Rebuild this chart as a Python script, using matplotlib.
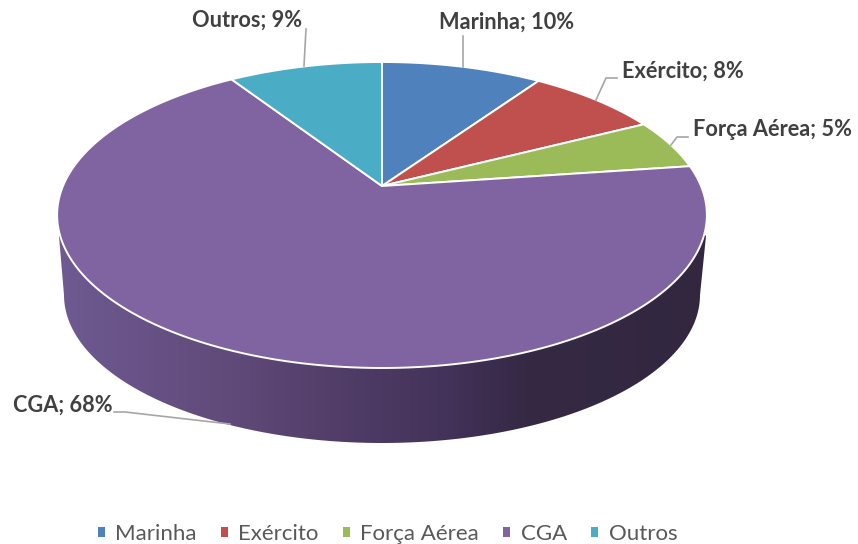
import matplotlib
matplotlib.use('Agg')
import numpy as np
import matplotlib.pyplot as plt
from matplotlib.patches import Patch, Polygon
from matplotlib.colors import LinearSegmentedColormap

plt.rcParams['font.family'] = ['Lato', 'DejaVu Sans']

#------------------------------ data
categories = ['Marinha', 'Exército', 'Força Aérea', 'CGA', 'Outros']
values = [9.6, 7.9, 5.3, 68.0, 9.2]
percent_labels = [10, 8, 5, 68, 9]
colors = ['#4f81bd', '#c0504d', '#9bbb59', '#8064a2', '#4bacc6']

#------------------------------ geometry of the tilted disc, in pixels
cx, cy = 382., 186.
A, B, C = 319., 147.5, 0.1895


def project(theta):
    # theta clockwise from the top of the disc, perspective squeeze
    u, v = np.sin(theta), np.cos(theta)
    den = 1. + C * v
    return cx + A * u / den, cy - B * v / den


fig = plt.figure(figsize=(8.58, 5.44), dpi=100)
ax = fig.add_axes([0, 0, 1, 1])

#------ side wall, gradient clipped to the outline
th = np.linspace(np.pi * 0.60, np.pi * 1.40, 200)
xt, yt = project(th)
bt = np.linspace(np.pi, 0, 200)
xb = 382. + 318. * np.cos(bt)
yb = 295. + 148. * np.sin(bt)
wall = np.vstack([[[59., 236.]],
                  np.column_stack([xb, yb]),
                  [[706., 236.]],
                  np.column_stack([xt, yt])])
cmap = LinearSegmentedColormap.from_list('wall', [
    (0.00, '#6f5a92'), (0.27, '#604a79'), (0.40, '#54406b'),
    (0.60, '#43325a'), (0.72, '#352944'), (1.00, '#32273f')], N=1024)
im = ax.imshow(np.linspace(0, 1, 1024)[None, :], cmap=cmap, aspect='auto',
               extent=[57, 708, 444, 200], zorder=1)
ax.set_xlim(0, 858)
ax.set_ylim(544, 0)
ax.axis('off')
clip = Polygon(wall, closed=True, transform=ax.transData, fc='none', ec='none')
ax.add_patch(clip)
im.set_clip_path(clip)

#------ top face
fracs = np.cumsum([0.] + values) / np.sum(values)
for i in range(len(values)):
    ang = np.linspace(fracs[i], fracs[i + 1], 200) * 2 * np.pi
    x, y = project(ang)
    ax.fill(np.r_[cx, x], np.r_[cy, y], fc=colors[i], ec='white', lw=1.4,
            joinstyle='round', zorder=2)

#------ labels with leader lines
label_xy = [(439, 22), (622, 71), (693, 130), (13, 405), (192, 20)]
leaders = [([463, 463], [36, 67]),
           ([617, 606, 596], [78, 78, 100]),
           ([688, 677, 671], [137, 137, 145]),
           ([114, 125, 230], [412, 412, 424]),
           ([306, 304], [29, 66])]
for i in range(len(categories)):
    ax.plot(leaders[i][0], leaders[i][1], '-', c='#a6a6a6', lw=1.2, zorder=3)
    ax.text(label_xy[i][0], label_xy[i][1],
            '%s; %d%%' % (categories[i], percent_labels[i]),
            fontsize=15.7, fontweight='bold', color='#404040',
            ha='left', va='center', zorder=4)

handles = [Patch(fc=colors[i], ec='none', label=categories[i]) for i in range(len(categories))]
ax.legend(handles=handles, loc='center', bbox_to_anchor=(387.5 / 858, 1 - 534. / 544),
          ncol=5, frameon=False, fontsize=16, labelcolor='#595959',
          handlelength=0.32, handleheight=0.32, handletextpad=0.47, columnspacing=1.08)

fig.savefig('out.png', dpi=100)
